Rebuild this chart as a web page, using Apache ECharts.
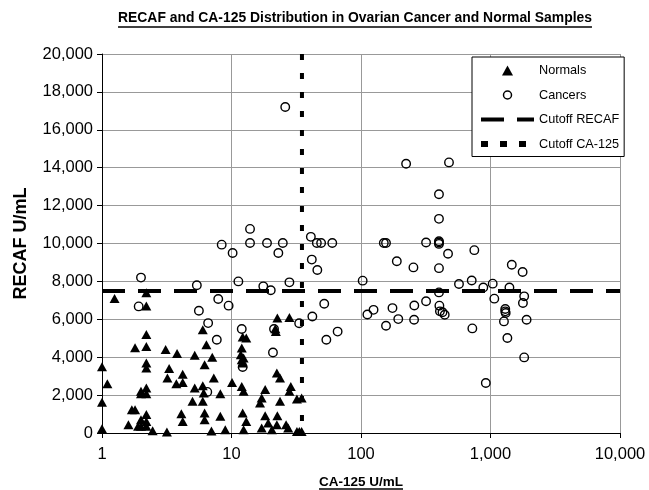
<!DOCTYPE html>
<html><head><meta charset="utf-8">
<script src="https://cdn.jsdelivr.net/npm/echarts@6.0.0/dist/echarts.min.js"></script>
<style>html,body{margin:0;padding:0;background:#fff}#c{width:649px;height:490px}</style>
</head><body><div id="c"></div>
<script>
const titleText = 'RECAF and CA-125 Distribution in Ovarian Cancer and Normal Samples';
const xAxisName = 'CA-125 U/mL';
const yAxisName = 'RECAF U/mL';
const seriesNames = ['Normals', 'Cancers', 'Cutoff RECAF', 'Cutoff CA-125'];
const xTicks = [1, 10, 100, 1000, 10000];
const yTicks = [0, 2000, 4000, 6000, 8000, 10000, 12000, 14000, 16000, 18000, 20000];
const cutoffRECAF = 7500;
const cutoffCA125 = 35;

const normalsCA125 = [1.0,1.0,1.0,1.1,1.25,1.6,1.7,1.8,1.8,1.9,2.0,2.0,2.0,2.0,2.2,2.2,2.2,2.2,2.2,2.2,2.2,2.2,2.2,2.2,2.2,2.46,3.1,3.17,3.2,3.3,3.75,3.8,4.1,4.2,4.2,4.2,5.0,5.2,5.2,6.0,6.0,6.0,6.1,6.2,6.2,6.2,6.4,7.0,7.1,7.3,8.2,8.2,8.95,10.1,11.8,12.0,12.0,12.0,12.2,12.2,12.2,12.4,12.4,12.4,13.0,13.0,16.6,17.1,17.1,18.2,18.2,19.2,20.5,21.8,22.0,22.4,22.4,22.6,22.6,23.7,23.7,26.4,27.4,28.0,28.0,28.7,32.0,32.0,33.4,34.8,34.8];
const normalsRECAF = [230,1620,3500,2600,7100,440,1230,1230,4500,350,350,700,2070,2200,350,610,970,2070,2380,3430,3700,4570,5200,6700,7400,120,4400,50,2900,3400,2600,4200,1020,610,2670,3100,1670,2380,4100,1670,2500,5450,2110,700,1050,3600,4660,100,4000,2900,880,2070,170,2670,4130,2460,3870,4490,1050,3690,5070,170,2200,3960,610,5010,1580,260,1850,910,2290,530,170,5500,5360,440,3170,910,6070,1670,2900,440,260,2200,6100,2460,80,1790,80,80,1850];

const cancersCA125 = [1.92,2.0,5.4,5.6,6.5,6.6,7.7,7.9,8.4,9.5,10.2,11.3,12.0,12.2,13.9,13.9,17.6,18.8,20.1,20.9,21.3,23.0,24.9,26.0,28.0,33.3,41.0,41.7,42.1,45.6,46.0,49.2,52.0,54.0,60.0,66.0,103,112,125,150,156,156,175,189,194,223,254,257,258,318,318,400,400,400,400,400,400,400,403,407,426,443,470,478,571,716,724,750,880,920,1040,1070,1270,1300,1300,1310,1350,1400,1460,1770,1780,1820,1820,1900];
const cancersRECAF = [6680,8200,7800,6450,2170,5800,4920,7070,9940,6720,9500,8000,5490,3480,10030,10770,7740,10030,7530,4250,5490,9500,10030,17200,7950,5790,10350,9150,6150,10030,8600,10030,6820,4920,10030,5350,8040,6250,6500,10030,10030,5660,6590,9060,6010,14210,8740,5980,6730,10050,6950,12600,11300,10120,10050,9980,8700,7420,6720,6420,6370,6240,9460,14280,7860,8050,5520,9650,7680,2640,7880,7090,5890,6540,6420,6330,5010,7680,8880,8500,6860,7210,3990,5980];

const FONT = '"Liberation Sans", Arial, sans-serif';
const fmt = v => String(Math.round(v)).replace(/\B(?=(\d{3})+(?!\d))/g, ',');
const zip = (a, b) => a.map((v, i) => [v, b[i]]);

const ctx = document.createElement('canvas').getContext('2d');
function measure(text, font) { ctx.font = font; return ctx.measureText(text).width; }

const titleSize = 13.9, titleCX = 355, titleTop = 11;
const titleW = measure(titleText, 'bold ' + titleSize + 'px ' + FONT);
const xNameSize = 13.5, xNameCX = 361;
const xNameW = measure(xAxisName, 'bold ' + xNameSize + 'px ' + FONT);
const hidden = {color: 'transparent', borderColor: 'transparent', borderWidth: 0, opacity: 0};
// legend icons drawn inside the full legend item box (53 x 10) so they keep their shape
const triIcon = 'path://M0,0M53,10M21,10L26.5,0L32,10Z';
const circIcon = 'path://M0,0M53,10M22.5,5a4,4 0 1,0 8,0a4,4 0 1,0 -8,0Z';

const chart = echarts.init(document.getElementById('c'), null, {renderer: 'canvas'});
chart.setOption({
  animation: false,
  backgroundColor: '#fff',
  textStyle: {fontFamily: FONT},
  title: {
    text: titleText, left: titleCX - titleW / 2, top: titleTop, padding: 0,
    textStyle: {fontSize: titleSize, fontWeight: 'bold', color: '#000', fontFamily: FONT}
  },
  graphic: [
    {type: 'line', shape: {x1: titleCX - titleW / 2, y1: titleTop + 16, x2: titleCX + titleW / 2, y2: titleTop + 16}, style: {stroke: '#000', lineWidth: 1.3}},
    {type: 'line', shape: {x1: xNameCX - xNameW / 2, y1: 489, x2: xNameCX + xNameW / 2, y2: 489}, style: {stroke: '#000', lineWidth: 1.3}}
  ],
  grid: {left: 102, right: 29, top: 54, bottom: 57, containLabel: false, outerBoundsMode: 'none'},
  legend: {
    left: 472, top: 57, orient: 'vertical',
    padding: [7, 5, 6, 6], itemWidth: 53, itemHeight: 10, itemGap: 11.5,
    symbolKeepAspect: true,
    borderColor: '#000', borderWidth: 1, backgroundColor: '#fff',
    textStyle: {fontSize: 12.7, color: '#000', fontFamily: FONT},
    data: [
      {name: seriesNames[0], icon: triIcon, itemStyle: {color: '#000'}},
      {name: seriesNames[1], icon: circIcon, itemStyle: {color: 'transparent', borderColor: '#000', borderWidth: 1.5}},
      {name: seriesNames[2], itemStyle: hidden, lineStyle: {width: 4, type: [23, 13], color: '#000'}},
      {name: seriesNames[3], itemStyle: hidden, lineStyle: {width: 6, type: [7, 12], color: '#000'}}
    ]
  },
  xAxis: {
    type: 'log', logBase: 10, min: xTicks[0], max: xTicks[xTicks.length - 1],
    name: xAxisName, nameLocation: 'middle', nameGap: 42, nameMoveOverlap: false,
    nameTextStyle: {fontSize: xNameSize, fontWeight: 'bold', color: '#000', fontFamily: FONT},
    axisLine: {show: true, onZero: false, lineStyle: {color: '#000', width: 1}},
    axisTick: {show: true, inside: false, length: 5, lineStyle: {color: '#000'}},
    axisLabel: {fontSize: 16.5, color: '#000', margin: 13, formatter: fmt, fontFamily: FONT, showMinLabel: true, showMaxLabel: true},
    splitLine: {show: true, lineStyle: {color: '#999', width: 1}},
    minorTick: {show: false}, minorSplitLine: {show: false}
  },
  yAxis: {
    type: 'value', min: yTicks[0], max: yTicks[yTicks.length - 1], interval: 2000,
    name: yAxisName, nameLocation: 'middle', nameGap: 72, nameMoveOverlap: false,
    nameTextStyle: {fontSize: 18, fontWeight: 'bold', color: '#000', fontFamily: FONT},
    axisLine: {show: true, onZero: false, lineStyle: {color: '#000', width: 1}},
    axisTick: {show: true, inside: false, length: 5, lineStyle: {color: '#000'}},
    axisLabel: {fontSize: 16.5, color: '#000', margin: 9, formatter: fmt, fontFamily: FONT},
    splitLine: {show: true, lineStyle: {color: '#999', width: 1}}
  },
  series: [
    {name: seriesNames[0], type: 'scatter', data: zip(normalsCA125, normalsRECAF), symbol: 'triangle', symbolSize: [10, 9],
     itemStyle: {color: '#000', opacity: 1}, z: 3},
    {name: seriesNames[1], type: 'scatter', data: zip(cancersCA125, cancersRECAF), symbol: 'circle', symbolSize: 8.5,
     itemStyle: {color: 'transparent', borderColor: '#000', borderWidth: 1.4, opacity: 1}, z: 3},
    {name: seriesNames[2], type: 'line', data: [[xTicks[0], cutoffRECAF], [xTicks[xTicks.length - 1], cutoffRECAF]],
     symbol: 'none', itemStyle: {color: '#000'}, lineStyle: {color: '#000', width: 4, type: [23, 13]}, z: 2},
    {name: seriesNames[3], type: 'line', data: [[cutoffCA125, yTicks[yTicks.length - 1]], [cutoffCA125, yTicks[0]]],
     symbol: 'none', itemStyle: {color: '#000'}, lineStyle: {color: '#000', width: 4, type: [6, 13]}, z: 2}
  ]
});
</script></body></html>
